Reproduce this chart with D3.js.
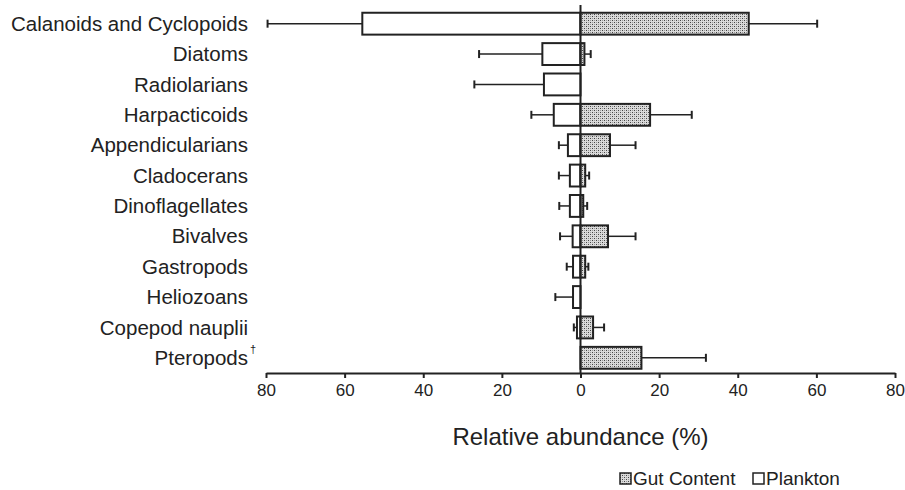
<!DOCTYPE html>
<html>
<head>
<meta charset="utf-8">
<script src="https://cdn.jsdelivr.net/npm/d3@7"></script>
<style>
  body { margin: 0; background: #fff; }
  text { font-family: "Liberation Sans", Arial, sans-serif; fill: #222; }
</style>
</head>
<body>
<div id="svg"></div>
<script>
var categories = ["Calanoids and Cyclopoids", "Diatoms", "Radiolarians", "Harpacticoids",
  "Appendicularians", "Cladocerans", "Dinoflagellates", "Bivalves", "Gastropods",
  "Heliozoans", "Copepod nauplii", "Pteropods"];
var plankton    = [55.5, 9.7, 9.3, 6.8, 3.2, 2.7, 2.7, 2.0, 1.9, 1.9, 0.9, 0];
var planktonErr = [24.1, 16.1, 17.7, 5.7, 2.3, 2.8, 2.7, 3.2, 1.6, 4.5, 0.8, 0];
var gut         = [42.8, 1.0, 0, 17.7, 7.5, 1.2, 0.7, 7.0, 1.2, 0, 3.2, 15.5];
var gutErr      = [17.4, 1.6, 0, 10.6, 6.5, 1.0, 1.0, 7.0, 0.8, 0, 2.8, 16.4];
var tickValues  = [-80, -60, -40, -20, 0, 20, 40, 60, 80];

var w = 905;
var h = 490;

var svg = d3.select("#svg")
  .append("svg")
  .attr("width", w)
  .attr("height", h);

// stipple pattern for gut content bars
var pat = svg.append("defs").append("pattern")
  .attr("id", "dots")
  .attr("patternUnits", "userSpaceOnUse")
  .attr("width", 4)
  .attr("height", 4);
pat.append("rect").attr("width", 4).attr("height", 4).attr("fill", "#dadada");
pat.append("rect").attr("x", 0).attr("y", 0).attr("width", 1).attr("height", 1).attr("fill", "#444");
pat.append("rect").attr("x", 2).attr("y", 2).attr("width", 1).attr("height", 1).attr("fill", "#444");
pat.append("rect").attr("x", 0).attr("y", 2).attr("width", 1).attr("height", 1).attr("fill", "#999");
pat.append("rect").attr("x", 2).attr("y", 0).attr("width", 1).attr("height", 1).attr("fill", "#999");

var xScale = d3.scaleLinear()
  .domain([-80, 80])
  .range([266, 895]);

var yScale = d3.scaleBand()
  .domain(categories)
  .range([8.5, 373])
  .paddingInner(0.28)
  .paddingOuter(0.14);

var x0 = xScale(0);
var bw = yScale.bandwidth();

// one row per category, plankton drawn to the left (negative side)
var planktonRows = categories.map(function(c, i) {
  return { cat: c, v: -plankton[i], e: -planktonErr[i] };
}).filter(function(d) { return d.v !== 0; });
var gutRows = categories.map(function(c, i) {
  return { cat: c, v: gut[i], e: gutErr[i] };
}).filter(function(d) { return d.v !== 0; });

// category labels
svg.append("g").selectAll("text")
  .data(categories)
  .enter()
  .append("text")
  .attr("x", 248)
  .attr("y", function(d) { return yScale(d) + bw / 2; })
  .attr("dy", "0.35em")
  .attr("text-anchor", "end")
  .style("font-size", "20.5px")
  .text(function(d) { return d; });

svg.append("text")
  .attr("x", 250)
  .attr("y", yScale("Pteropods") + bw / 2 - 5)
  .style("font-size", "11px")
  .text("\u2020");

function errBars(rows) {
  var g = svg.append("g");
  g.selectAll("line.e")
    .data(rows)
    .enter()
    .append("line")
    .attr("x1", function(d) { return xScale(d.v); })
    .attr("x2", function(d) { return xScale(d.v + d.e); })
    .attr("y1", function(d) { return yScale(d.cat) + bw / 2; })
    .attr("y2", function(d) { return yScale(d.cat) + bw / 2; })
    .attr("stroke", "#222")
    .attr("stroke-width", 1.5);
  g.selectAll("line.c")
    .data(rows)
    .enter()
    .append("line")
    .attr("x1", function(d) { return xScale(d.v + d.e); })
    .attr("x2", function(d) { return xScale(d.v + d.e); })
    .attr("y1", function(d) { return yScale(d.cat) + bw / 2 - 4; })
    .attr("y2", function(d) { return yScale(d.cat) + bw / 2 + 4; })
    .attr("stroke", "#222")
    .attr("stroke-width", 2);
}
errBars(planktonRows);
errBars(gutRows);

svg.append("g").selectAll("rect")
  .data(planktonRows)
  .enter()
  .append("rect")
  .attr("x", function(d) { return xScale(d.v); })
  .attr("y", function(d) { return yScale(d.cat); })
  .attr("width", function(d) { return x0 - xScale(d.v); })
  .attr("height", bw)
  .attr("fill", "#fff")
  .attr("stroke", "#222")
  .attr("stroke-width", 2);

svg.append("g").selectAll("rect")
  .data(gutRows)
  .enter()
  .append("rect")
  .attr("x", x0)
  .attr("y", function(d) { return yScale(d.cat); })
  .attr("width", function(d) { return xScale(d.v) - x0; })
  .attr("height", bw)
  .attr("fill", "url(#dots)")
  .attr("stroke", "#222")
  .attr("stroke-width", 2);

// zero line
svg.append("line")
  .attr("x1", x0).attr("x2", x0)
  .attr("y1", 5).attr("y2", 373)
  .attr("stroke", "#222")
  .attr("stroke-width", 2);

var xAxis = d3.axisBottom(xScale)
  .tickValues(tickValues)
  .tickSize(5)
  .tickSizeOuter(0)
  .tickFormat(function(d) { return Math.abs(d); });

var xAxisGroup = svg.append("g")
  .attr("id", "x-axis")
  .attr("transform", "translate(0, 373)")
  .call(xAxis);
xAxisGroup.select(".domain").attr("stroke", "#222").attr("stroke-width", 2);
xAxisGroup.selectAll(".tick line").attr("stroke", "#222").attr("stroke-width", 2);
xAxisGroup.selectAll(".tick text")
  .attr("y", 11)
  .style("font-size", "17px")
  .style("font-family", "'Liberation Sans', Arial, sans-serif")
  .attr("fill", "#222");

svg.append("text")
  .attr("x", x0)
  .attr("y", 445)
  .attr("text-anchor", "middle")
  .style("font-size", "24px")
  .text("Relative abundance (%)");

// legend
var legend = svg.append("g").attr("transform", "translate(620, 485)");
legend.append("rect")
  .attr("x", 0).attr("y", -12)
  .attr("width", 11).attr("height", 11)
  .attr("fill", "url(#dots)")
  .attr("stroke", "#222")
  .attr("stroke-width", 1.5);
legend.append("text")
  .attr("x", 13).attr("y", 0)
  .style("font-size", "19px")
  .text("Gut Content");
legend.append("rect")
  .attr("x", 133).attr("y", -12)
  .attr("width", 11).attr("height", 11)
  .attr("fill", "#fff")
  .attr("stroke", "#222")
  .attr("stroke-width", 1.5);
legend.append("text")
  .attr("x", 146).attr("y", 0)
  .style("font-size", "19px")
  .text("Plankton");
</script>
</body>
</html>
